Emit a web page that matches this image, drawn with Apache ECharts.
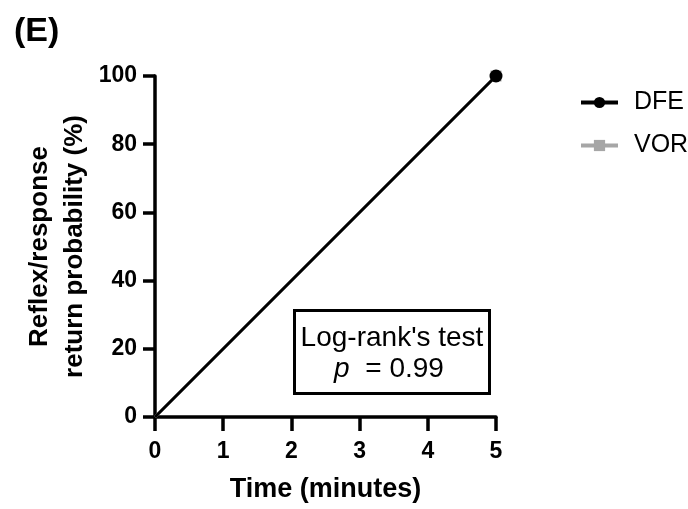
<!DOCTYPE html>
<html><head><meta charset="utf-8">
<script src="https://cdn.jsdelivr.net/npm/echarts@6/dist/echarts.min.js"></script>
<style>html,body{margin:0;padding:0;background:#fff}#c{width:688px;height:509px}</style>
</head><body><div id="c"></div>
<script>
const timeMinutes = [0, 5];
const dfeValues = [0, 100];
const vorValues = [0, 100];
const xTicks = [0, 1, 2, 3, 4, 5];
const yTicks = [0, 20, 40, 60, 80, 100];
const seriesNames = ['DFE', 'VOR'];

const chart = echarts.init(document.getElementById('c'));
const font = 'Liberation Sans, Arial, sans-serif';
// marker only on the final point, none at origin
function pairs(xs, ys){
  return xs.map((x,i)=> i === 0 ? { value: [x, ys[i]], symbol: 'none' } : { value: [x, ys[i]] });
}
chart.setOption({
  animation: false,
  backgroundColor: '#fff',
  title: { text: '(E)', left: 9, top: 10, textStyle: { fontFamily: font, fontWeight: 'bold', fontSize: 34, color: '#000' } },
  grid: { left: 155, right: 192, top: 76, bottom: 92 },
  legend: {
    orient: 'vertical', left: 574, top: 85, itemGap: 18, itemWidth: 37, itemHeight: 14,
    data: [
      { name: seriesNames[0], lineStyle: { width: 4 } },
      { name: seriesNames[1], lineStyle: { width: 4 } }
    ],
    textStyle: { fontFamily: font, fontSize: 25, color: '#000', padding: [0,0,0,11] }
  },
  xAxis: {
    type: 'value', min: 0, max: 5, interval: 1,
    name: 'Time (minutes)', nameLocation: 'middle', nameGap: 59,
    nameTextStyle: { fontFamily: font, fontWeight: 'bold', fontSize: 27, color: '#000' },
    axisLine: { lineStyle: { color: '#000', width: 3.5 } },
    axisTick: { show: true, inside: false, length: 14, lineStyle: { color: '#000', width: 3.5 } },
    axisLabel: { fontFamily: font, fontWeight: 'bold', fontSize: 23, color: '#000', margin: 23,
      formatter: v => xTicks.includes(v) ? String(v) : '' },
    splitLine: { show: false }
  },
  yAxis: {
    type: 'value', min: 0, max: 100, interval: 20,
    name: 'Reflex/response\nreturn probability (%)', nameLocation: 'middle', nameGap: 63,
    nameTextStyle: { fontFamily: font, fontWeight: 'bold', fontSize: 26, color: '#000', lineHeight: 35 },
    axisLine: { lineStyle: { color: '#000', width: 3.5 } },
    axisTick: { show: true, inside: false, length: 12, lineStyle: { color: '#000', width: 3.5 } },
    axisLabel: { fontFamily: font, fontWeight: 'bold', fontSize: 23, color: '#000', margin: 18,
      formatter: v => yTicks.includes(v) ? String(v) : '' },
    splitLine: { show: false }
  },
  series: [
    { name: seriesNames[1], type: 'line', data: pairs(timeMinutes, vorValues), z: 2,
      lineStyle: { color: '#a6a6a6', width: 3 }, itemStyle: { color: '#a6a6a6' },
      symbol: 'rect', symbolSize: 11, showSymbol: true },
    { name: seriesNames[0], type: 'line', data: pairs(timeMinutes, dfeValues), z: 3,
      lineStyle: { color: '#000', width: 3 }, itemStyle: { color: '#000' },
      symbol: 'circle', symbolSize: 13 }
  ],
  graphic: [
    { type: 'rect', left: 293, top: 309, shape: { width: 195, height: 83 },
      style: { fill: '#fff', stroke: '#000', lineWidth: 3 }, z: 10 },
    { type: 'text', x: 392, y: 338, z: 11,
      style: { text: "Log-rank's test", fontFamily: font, fontSize: 28, fill: '#000', align: 'center', verticalAlign: 'middle' } },
    { type: 'text', x: 389, y: 369, z: 11,
      style: { text: '{i|p}  = 0.99', fontFamily: font, fontSize: 28, fill: '#000', align: 'center', verticalAlign: 'middle',
        rich: { i: { fontStyle: 'italic', fontFamily: font, fontSize: 28 } } } }
  ]
});
</script></body></html>
